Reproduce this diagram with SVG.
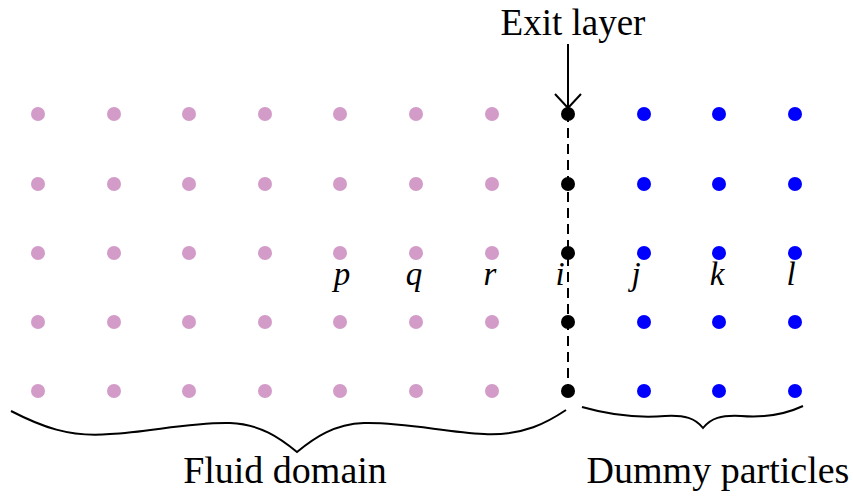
<svg xmlns="http://www.w3.org/2000/svg" width="853" height="497" viewBox="0 0 853 497">
<defs>
<style>
.f{fill:#D29BC8}
.b{fill:#0000FF}
.e{fill:#000}
.t{font-family:"Liberation Serif",serif;font-size:38px;fill:#000;text-anchor:middle}
.l{font-family:"Liberation Serif",serif;font-size:33px;font-style:italic;fill:#000;text-anchor:middle}
.s{fill:none;stroke:#000;stroke-width:2}
</style>
</defs>
<rect width="853" height="497" fill="#fff"/>
<g id="connectors">
<line class="s" x1="568" y1="112" x2="568" y2="392" stroke-dasharray="10,6"/>
<line class="s" x1="568" y1="44" x2="568" y2="108"/>
<polyline class="s" points="555,94 568,108 581,94"/>
</g>
<g id="fluid">
<g class="f">
<circle cx="38" cy="114" r="7"/><circle cx="114" cy="114" r="7"/><circle cx="189" cy="114" r="7"/><circle cx="265" cy="114" r="7"/><circle cx="340" cy="114" r="7"/><circle cx="416" cy="114" r="7"/><circle cx="492" cy="114" r="7"/>
<circle cx="38" cy="184" r="7"/><circle cx="114" cy="184" r="7"/><circle cx="189" cy="184" r="7"/><circle cx="265" cy="184" r="7"/><circle cx="340" cy="184" r="7"/><circle cx="416" cy="184" r="7"/><circle cx="492" cy="184" r="7"/>
<circle cx="38" cy="253" r="7"/><circle cx="114" cy="253" r="7"/><circle cx="189" cy="253" r="7"/><circle cx="265" cy="253" r="7"/><circle cx="340" cy="253" r="7"/><circle cx="416" cy="253" r="7"/><circle cx="492" cy="253" r="7"/>
<circle cx="38" cy="322" r="7"/><circle cx="114" cy="322" r="7"/><circle cx="189" cy="322" r="7"/><circle cx="265" cy="322" r="7"/><circle cx="340" cy="322" r="7"/><circle cx="416" cy="322" r="7"/><circle cx="492" cy="322" r="7"/>
<circle cx="38" cy="391" r="7"/><circle cx="114" cy="391" r="7"/><circle cx="189" cy="391" r="7"/><circle cx="265" cy="391" r="7"/><circle cx="340" cy="391" r="7"/><circle cx="416" cy="391" r="7"/><circle cx="492" cy="391" r="7"/>
</g>
</g>
<g id="exit">
<g class="e">
<circle cx="568" cy="114" r="7"/><circle cx="568" cy="184" r="7"/><circle cx="568" cy="253" r="7"/><circle cx="568" cy="322" r="7"/><circle cx="568" cy="391" r="7"/>
</g>
</g>
<g id="dummy">
<g class="b">
<circle cx="644" cy="114" r="7"/><circle cx="719" cy="114" r="7"/><circle cx="795" cy="114" r="7"/>
<circle cx="644" cy="184" r="7"/><circle cx="719" cy="184" r="7"/><circle cx="795" cy="184" r="7"/>
<circle cx="644" cy="253" r="7"/><circle cx="719" cy="253" r="7"/><circle cx="795" cy="253" r="7"/>
<circle cx="644" cy="322" r="7"/><circle cx="719" cy="322" r="7"/><circle cx="795" cy="322" r="7"/>
<circle cx="644" cy="391" r="7"/><circle cx="719" cy="391" r="7"/><circle cx="795" cy="391" r="7"/>
</g>
</g>
<g id="labels">
<text class="t" x="573" y="35" style="font-size:37px">Exit layer</text>
<text class="l" x="342" y="285">p</text>
<text class="l" x="414" y="285">q</text>
<text class="l" x="490" y="285">r</text>
<text class="l" x="560" y="285">i</text>
<text class="l" x="636" y="285">j</text>
<text class="l" x="717" y="285">k</text>
<text class="l" x="791" y="285">l</text>
<text class="t" x="285" y="483">Fluid domain</text>
<text class="t" x="718" y="483">Dummy particles</text>
</g>
<g id="braces">
<path class="s" d="M11,411 C40,426 70,438 110,434 C150,432 190,422 230,423 C260,424 280,438 297,452 C314,438 334,424 364,423 C404,422 444,432 484,434 C524,436 548,422 566,410"/>
<path class="s" d="M582,407 C610,415 640,418 665,416 C685,415 695,418 703,428 C711,418 721,415 741,416 C766,418 786,414 803,406"/>
</g>
</svg>
